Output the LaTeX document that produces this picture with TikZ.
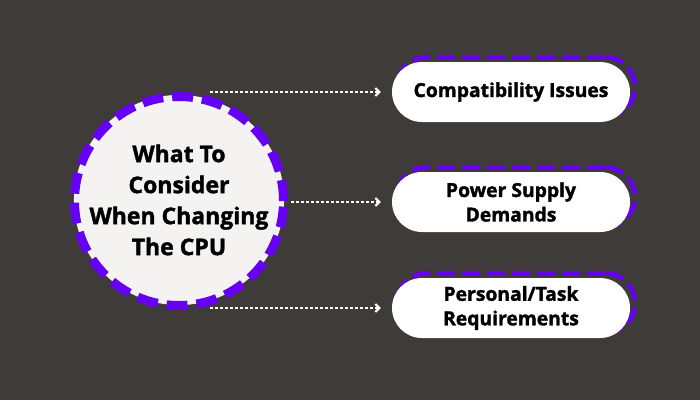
\documentclass[tikz,border=0pt]{standalone}
\usepackage{fontspec}
\setmainfont{Open Sans}[BoldFeatures={FakeBold=1.6}]
\usetikzlibrary{arrows.meta,shadows}
\definecolor{bgdark}{HTML}{3E3B38}
\definecolor{cpupurple}{HTML}{6500F5}
\definecolor{offwhite}{HTML}{F4F3F1}
\tikzset{
	topicnode/.style={circle, fill=offwhite, minimum size=194pt, inner sep=0pt, align=center,
		font=\fontsize{23}{31}\selectfont\bfseries},
	ringline/.style={draw=cpupurple, line width=9pt, dash pattern=on 21pt off 9pt},
	itembox/.style={rectangle, rounded corners=30pt, fill=white, minimum width=238pt,
		minimum height=60pt, align=center, font=\fontsize{19.3}{24.5}\selectfont\bfseries,
		copy shadow={shadow xshift=5pt, shadow yshift=5pt, fill=none, draw=cpupurple,
			line width=4.5pt, dash pattern=on 18pt off 7pt}},
	dotarrow/.style={draw=white, line width=2.5pt, dash pattern=on 2.5pt off 2.5pt,
		-{Straight Barb[length=4pt,width=8pt,line width=2pt]}, shorten >=11pt},
}
\begin{document}
\begin{tikzpicture}[x=1pt, y=-1pt]
			\fill[bgdark] (0,0) rectangle (700,400);
			\useasboundingbox (0,0) rectangle (700,400);
			% central topic
			\node[topicnode] (topic) at (179,200) {What To\\Consider\\When Changing\\The CPU};
			\draw[ringline] ([yshift=-1pt]topic.center) circle[radius=104.5pt];
			% items
			\node[itembox] (compat) at (511,92) {Compatibility Issues};
			\node[itembox] (power) at (511,202) {Power Supply\\Demands};
			\node[itembox] (needs) at (511,308) {Personal/Task\\Requirements};
			% arrow starts
			\coordinate (s1) at (210,92);
			\coordinate (s2) at (291,202);
			\coordinate (s3) at (210,308);
			\draw[dotarrow] (s1) -- (s1 -| compat.west);
			\draw[dotarrow] (s2) -- (s2 -| power.west);
			\draw[dotarrow] (s3) -- (s3 -| needs.west);
		\end{tikzpicture}
\end{document}
